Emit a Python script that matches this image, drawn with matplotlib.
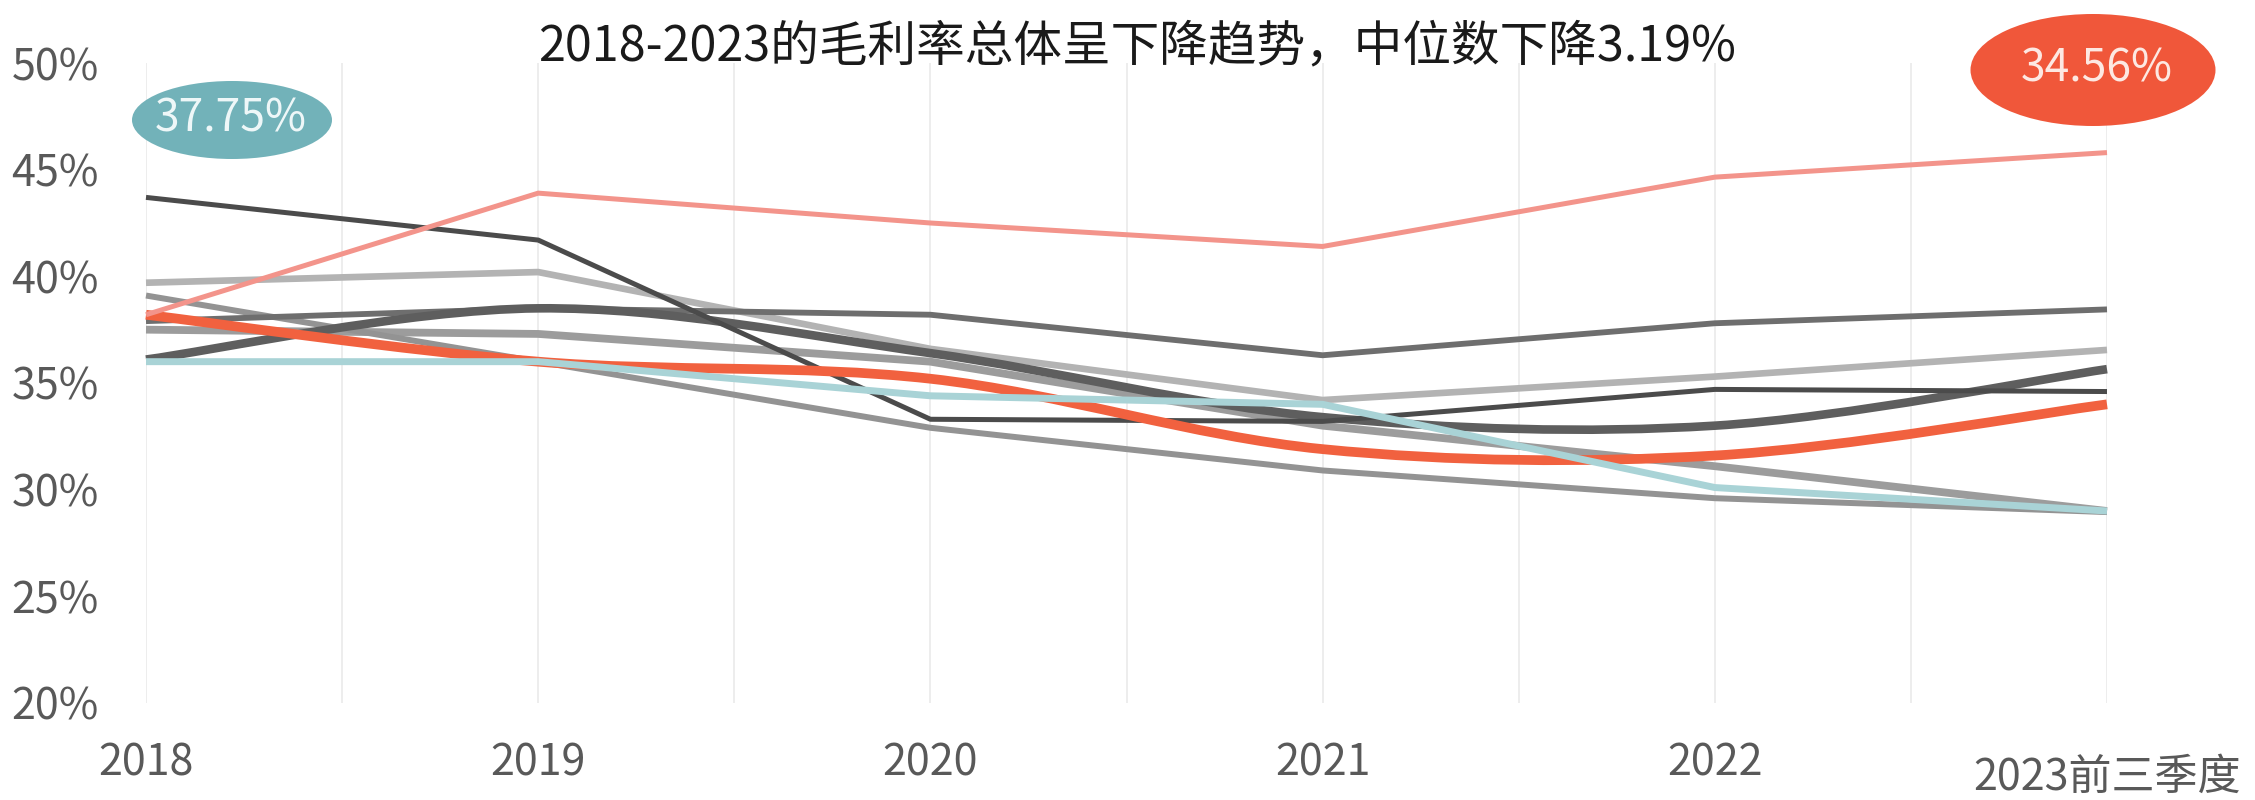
import numpy as np
import matplotlib
matplotlib.use("Agg")
import matplotlib.pyplot as plt
from matplotlib.path import Path
from matplotlib.patches import PathPatch, Ellipse
from matplotlib.transforms import ScaledTranslation

plt.rcParams['font.family'] = ['Noto Sans CJK SC', 'DejaVu Sans']

# ---- data -------------------------------------------------------------
periods = ["2018", "2019", "2020", "2021", "2022", "2023前三季度"]
y_ticks = [20, 25, 30, 35, 40, 45, 50]

title = "2018-2023的毛利率总体呈下降趋势，中位数下降3.19%"
median_start = 37.75
median_end = 34.56

# gross margin (%) of each company, by period
margin_a = [38.2, 43.9, 42.5, 41.4, 44.65, 45.8]    # pink
margin_b = [43.7, 41.7, 33.3, 33.2, 34.7, 34.6]     # dark grey
margin_c = [36.1, 38.5, 36.4, 33.4, 33.0, 35.65]    # thick dark grey (smoothed)
margin_d = [39.7, 40.2, 36.6, 34.2, 35.3, 36.55]    # light grey
margin_e = [39.1, 36.0, 32.9, 30.9, 29.6, 28.95]    # grey, lowest
margin_f = [37.5, 37.3, 36.0, 33.0, 31.1, 29.0]     # grey
margin_g = [37.9, 38.5, 38.2, 36.3, 37.8, 38.45]    # mid grey
margin_t = [36.0, 36.0, 34.4, 34.0, 30.1, 29.0]     # teal
margin_o = [38.2, 36.0, 35.2, 31.9, 31.6, 34.0]     # orange-red (smoothed)

# ---- styles -------------------------------------------------------------
series = [
    (margin_d, "#b3b3b3", 4.8, False, 2),
    (margin_f, "#9c9c9c", 5.6, False, 2),
    (margin_g, "#6e6e6e", 4.2, False, 3),
    (margin_e, "#939393", 4.3, False, 2),
    (margin_c, "#5e5e5e", 6.2, True, 3),
    (margin_b, "#4b4b4b", 3.6, False, 4),
    (margin_o, "#f1613f", 7.0, True, 5),
    (margin_t, "#a9d3d6", 5.0, False, 5),
    (margin_a, "#f3948b", 3.6, False, 6),
]

W, H, DPI = 2255, 800, 100
fig = plt.figure(figsize=(W / DPI, H / DPI), dpi=DPI)
fig.patch.set_facecolor("white")
ax = fig.add_axes([146 / W, 97 / H, (2107 - 146) / W, (703 - 63) / H])
ax.set_facecolor("white")

x = np.arange(len(periods))


def smooth_path(xs, ys):
    pts = np.column_stack([xs, ys]).astype(float)
    n = len(pts)
    verts = [pts[0]]
    codes = [Path.MOVETO]
    for i in range(n - 1):
        p0 = pts[i - 1] if i > 0 else pts[i]
        p1, p2 = pts[i], pts[i + 1]
        p3 = pts[i + 2] if i + 2 < n else pts[i + 1]
        verts += [p1 + (p2 - p0) / 6.0, p2 - (p3 - p1) / 6.0, p2]
        codes += [Path.CURVE4] * 3
    return Path(verts, codes)


for vals, color, lw, smooth, z in series:
    if smooth:
        patch = PathPatch(smooth_path(x, vals), facecolor="none", edgecolor=color,
                          lw=lw, capstyle="butt", joinstyle="round",
                          zorder=z, clip_on=False)
        ax.add_patch(patch)
    else:
        ax.plot(x, vals, color=color, lw=lw, solid_capstyle="butt",
                solid_joinstyle="round", zorder=z, clip_on=False)

ax.set_xlim(0, len(periods) - 1)
ax.set_ylim(y_ticks[0], y_ticks[-1])

ax.set_xticks(x)
ax.set_xticks(np.arange(0.5, len(periods) - 1, 1.0), minor=True)
ax.set_xticklabels(periods)
ax.set_yticks(y_ticks)
ax.set_yticklabels([f"{v}%" for v in y_ticks])

ax.grid(True, axis="x", which="both", color="#ececec", lw=1.3, zorder=0)
ax.grid(False, axis="y")
ax.tick_params(axis="both", which="both", length=0, labelsize=31,
               labelcolor="#595959")
ax.tick_params(axis="x", pad=28)
ax.tick_params(axis="y", pad=34)
for s in ax.spines.values():
    s.set_visible(False)

# the last period label sits a little lower than the others
last = ax.get_xticklabels()[-1]
last.set_transform(last.get_transform() +
                   ScaledTranslation(0, -14 / DPI, fig.dpi_scale_trans))

fig.text(1137 / W, 1 - 47 / H, title, ha="center", va="center",
         fontsize=35, color="#1a1a1a")

# median call-outs
e1 = Ellipse((232 / W, 1 - 120 / H), 200 / W, 78 / H, transform=fig.transFigure,
             facecolor="#72b2b9", edgecolor="none", zorder=10)
e2 = Ellipse((2093 / W, 1 - 70 / H), 245 / W, 112 / H, transform=fig.transFigure,
             facecolor="#f0573a", edgecolor="none", zorder=10)
fig.add_artist(e1)
fig.add_artist(e2)
fig.text(231 / W, 1 - 118 / H, f"{median_start:.2f}%", ha="center", va="center",
         fontsize=32, color="#eef7f8", zorder=11)
fig.text(2097 / W, 1 - 68 / H, f"{median_end:.2f}%", ha="center", va="center",
         fontsize=32, color="#fde8e2", zorder=11)

fig.savefig("out.png", dpi=DPI, facecolor="white")
